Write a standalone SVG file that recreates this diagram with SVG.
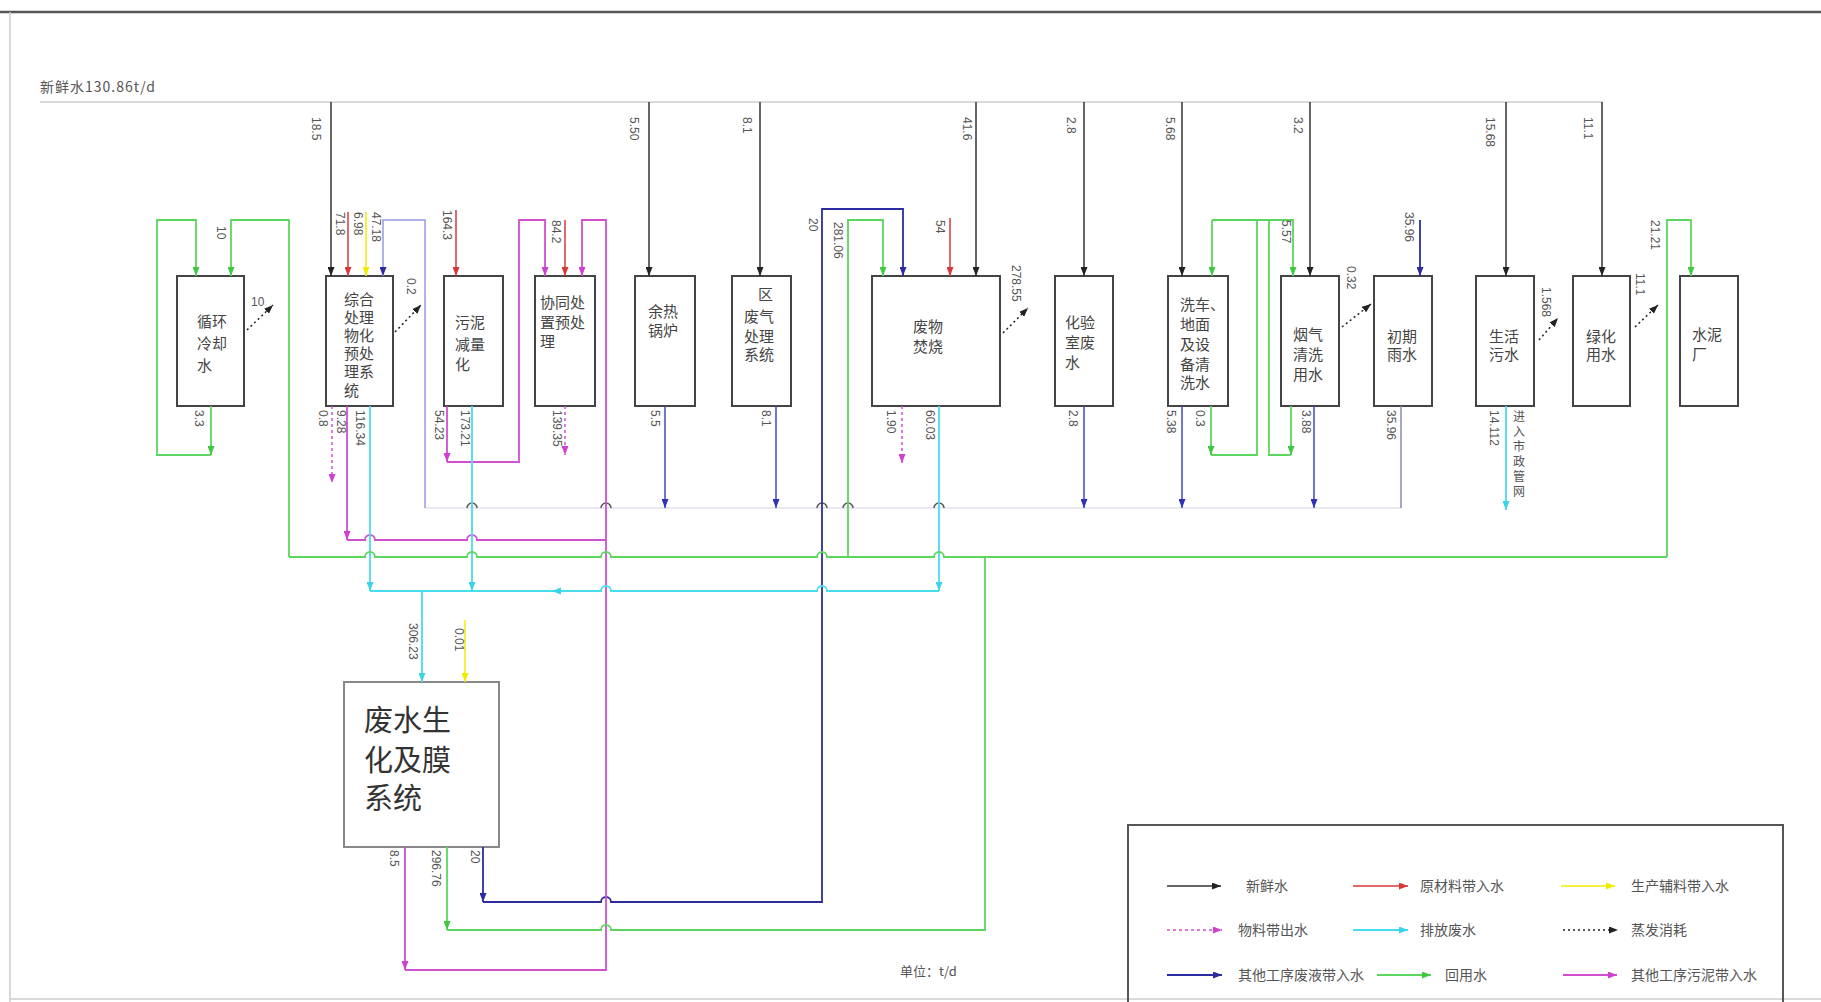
<svg xmlns="http://www.w3.org/2000/svg" width="1821" height="1002" viewBox="0 0 1821 1002">
<defs>
<style>
.bx{fill:#fff;stroke:#444;stroke-width:2}
.t{font-family:"Noto Sans CJK SC","Liberation Sans",sans-serif;font-size:15px;fill:#444}
.n{font-family:"Liberation Sans","Noto Sans CJK SC",sans-serif;font-size:12px;fill:#555}
.lg{font-family:"Noto Sans CJK SC","Liberation Sans",sans-serif;font-size:14px;fill:#555}
.k{stroke:#333;stroke-width:1.5;fill:none}
.r{stroke:#d83838;stroke-width:1.5;fill:none}
.y{stroke:#f0ec00;stroke-width:1.5;fill:none}
.nv{stroke:#2c2ca0;stroke-width:1.8;fill:none}
.bl{stroke:#4444c8;stroke-width:1.5;fill:none}
.lv{stroke:#9a9ae6;stroke-width:1.5;fill:none}
.c{stroke:#48dcef;stroke-width:1.8;fill:none}
.g{stroke:#5cd65c;stroke-width:1.8;fill:none}
.m{stroke:#d050d0;stroke-width:1.8;fill:none}
.md{stroke:#d050d0;stroke-width:1.5;fill:none;stroke-dasharray:3 3}
.ev{stroke:#222;stroke-width:1.5;fill:none;stroke-dasharray:2 3}
.hop{stroke:#555;stroke-width:1.5;fill:none}
</style>
<marker id="ak" viewBox="0 0 9 7" refX="9" refY="3.5" markerWidth="9" markerHeight="7" markerUnits="userSpaceOnUse" orient="auto"><path d="M0,0 L9,3.5 L0,7z" fill="#222"/></marker>
<marker id="ar" viewBox="0 0 9 7" refX="9" refY="3.5" markerWidth="9" markerHeight="7" markerUnits="userSpaceOnUse" orient="auto"><path d="M0,0 L9,3.5 L0,7z" fill="#d83838"/></marker>
<marker id="ay" viewBox="0 0 9 7" refX="9" refY="3.5" markerWidth="9" markerHeight="7" markerUnits="userSpaceOnUse" orient="auto"><path d="M0,0 L9,3.5 L0,7z" fill="#f0ec00"/></marker>
<marker id="anv" viewBox="0 0 9 7" refX="9" refY="3.5" markerWidth="9" markerHeight="7" markerUnits="userSpaceOnUse" orient="auto"><path d="M0,0 L9,3.5 L0,7z" fill="#2c2ca0"/></marker>
<marker id="abl" viewBox="0 0 9 7" refX="9" refY="3.5" markerWidth="9" markerHeight="7" markerUnits="userSpaceOnUse" orient="auto"><path d="M0,0 L9,3.5 L0,7z" fill="#3030b8"/></marker>
<marker id="ac" viewBox="0 0 9 7" refX="9" refY="3.5" markerWidth="9" markerHeight="7" markerUnits="userSpaceOnUse" orient="auto"><path d="M0,0 L9,3.5 L0,7z" fill="#38d4ea"/></marker>
<marker id="ag" viewBox="0 0 9 7" refX="9" refY="3.5" markerWidth="9" markerHeight="7" markerUnits="userSpaceOnUse" orient="auto"><path d="M0,0 L9,3.5 L0,7z" fill="#40c840"/></marker>
<marker id="am" viewBox="0 0 9 7" refX="9" refY="3.5" markerWidth="9" markerHeight="7" markerUnits="userSpaceOnUse" orient="auto"><path d="M0,0 L9,3.5 L0,7z" fill="#d040d0"/></marker>
</defs>
<rect x="0" y="0" width="1821" height="1002" fill="#fff"/>
<g id="frame">
<line x1="0" y1="12" x2="1821" y2="12" stroke="#555" stroke-width="2.5"/>
<line x1="10" y1="12" x2="10" y2="1002" stroke="#ccc" stroke-width="1.5"/>
<line x1="10" y1="999" x2="1821" y2="999" stroke="#ccc" stroke-width="1.5"/>
<text x="40" y="92" class="t" style="font-size:14px;letter-spacing:1px;fill:#555">新鲜水130.86t/d</text>
<line x1="40" y1="102" x2="1603" y2="102" stroke="#ccc" stroke-width="1.5"/>
</g>

<g id="n-cooling"><rect class="bx" x="177" y="276" width="67" height="130"/>
<text class="t" x="197" y="327">循环</text><text class="t" x="197" y="349">冷却</text><text class="t" x="197" y="371">水</text></g>
<g id="n-pretreat"><rect class="bx" x="326" y="276" width="67" height="130"/>
<text class="t" x="344" y="305">综合</text><text class="t" x="344" y="323">处理</text><text class="t" x="344" y="341">物化</text><text class="t" x="344" y="359">预处</text><text class="t" x="344" y="377">理系</text><text class="t" x="344" y="396">统</text></g>
<g id="n-sludge"><rect class="bx" x="444" y="276" width="59" height="130"/>
<text class="t" x="455" y="328">污泥</text><text class="t" x="455" y="350">减量</text><text class="t" x="455" y="370">化</text></g>
<g id="n-coproc"><rect class="bx" x="535" y="276" width="60" height="130"/>
<text class="t" x="540" y="308">协同处</text><text class="t" x="540" y="328">置预处</text><text class="t" x="540" y="347">理</text></g>
<g id="n-boiler"><rect class="bx" x="635" y="276" width="60" height="130"/>
<text class="t" x="648" y="317">余热</text><text class="t" x="648" y="336">锅炉</text></g>
<g id="n-gas"><rect class="bx" x="732" y="276" width="59" height="130"/>
<text class="t" x="758" y="300">区</text><text class="t" x="744" y="322">废气</text><text class="t" x="744" y="342">处理</text><text class="t" x="744" y="360">系统</text></g>
<g id="n-incin"><rect class="bx" x="872" y="276" width="128" height="130"/>
<text class="t" x="913" y="332">废物</text><text class="t" x="913" y="352">焚烧</text></g>
<g id="n-lab"><rect class="bx" x="1055" y="276" width="58" height="130"/>
<text class="t" x="1065" y="328">化验</text><text class="t" x="1065" y="348">室废</text><text class="t" x="1065" y="368">水</text></g>
<g id="n-wash"><rect class="bx" x="1168" y="276" width="60" height="130"/>
<text class="t" x="1180" y="310">洗车、</text><text class="t" x="1180" y="330">地面</text><text class="t" x="1180" y="350">及设</text><text class="t" x="1180" y="370">备清</text><text class="t" x="1180" y="388">洗水</text></g>
<g id="n-flue"><rect class="bx" x="1281" y="276" width="58" height="130"/>
<text class="t" x="1293" y="340">烟气</text><text class="t" x="1293" y="360">清洗</text><text class="t" x="1293" y="380">用水</text></g>
<g id="n-rain"><rect class="bx" x="1374" y="276" width="58" height="130"/>
<text class="t" x="1387" y="342">初期</text><text class="t" x="1387" y="360">雨水</text></g>
<g id="n-domestic"><rect class="bx" x="1476" y="276" width="58" height="130"/>
<text class="t" x="1489" y="342">生活</text><text class="t" x="1489" y="360">污水</text></g>
<g id="n-green"><rect class="bx" x="1573" y="276" width="57" height="130"/>
<text class="t" x="1586" y="342">绿化</text><text class="t" x="1586" y="360">用水</text></g>
<g id="n-cement"><rect class="bx" x="1680" y="276" width="58" height="130"/>
<text class="t" x="1692" y="340">水泥</text><text class="t" x="1692" y="360">厂</text></g>
<g id="n-wwtp"><rect x="344" y="682" width="155" height="165" fill="#fff" stroke="#888" stroke-width="2"/>
<text class="t" style="font-size:29px;fill:#333" x="364" y="731">废水生</text><text class="t" style="font-size:29px;fill:#333" x="364" y="771">化及膜</text><text class="t" style="font-size:29px;fill:#333" x="364" y="809">系统</text></g>

<g id="connectors">
<path class="k" marker-end="url(#ak)" d="M331 102V276"/>
<path class="k" marker-end="url(#ak)" d="M649 102V276"/>
<path class="k" marker-end="url(#ak)" d="M760 102V276"/>
<path class="k" marker-end="url(#ak)" d="M976 102V276"/>
<path class="k" marker-end="url(#ak)" d="M1084 102V276"/>
<path class="k" marker-end="url(#ak)" d="M1182 102V276"/>
<path class="k" marker-end="url(#ak)" d="M1310 102V276"/>
<path class="k" marker-end="url(#ak)" d="M1506 102V276"/>
<path class="k" marker-end="url(#ak)" d="M1602 102V276"/>
<path class="r" marker-end="url(#ar)" d="M348 212V276"/>
<path class="r" marker-end="url(#ar)" d="M456 210V276"/>
<path class="r" marker-end="url(#ar)" d="M565 220V276"/>
<path class="r" marker-end="url(#ar)" d="M950 218V276"/>
<path class="y" marker-end="url(#ay)" d="M366 212V276"/>
<path class="y" marker-end="url(#ay)" d="M465 620V682"/>
<path d="M425 508H1401" stroke="#e2e2ef" stroke-width="1.5" fill="none"/>
<path class="hop" d="M467 508A5 5 0 0 1 477 508M601 508A5 5 0 0 1 611 508M817 508A5 5 0 0 1 827 508M843 508A5 5 0 0 1 853 508M934 508A5 5 0 0 1 944 508"/>
<path class="lv" marker-end="url(#anv)" d="M425 508V220H383V276"/>
<path class="bl" marker-end="url(#abl)" d="M665 406V508"/>
<path class="bl" marker-end="url(#abl)" d="M776 406V508"/>
<path class="bl" marker-end="url(#abl)" d="M1084 406V508"/>
<path class="bl" marker-end="url(#abl)" d="M1182 406V508"/>
<path class="bl" marker-end="url(#abl)" d="M1314 406V508"/>
<path d="M1401 406V508" stroke="#8a8ab8" stroke-width="1.5" fill="none"/>
<path class="nv" marker-end="url(#anv)" d="M1420 220V276"/>
<path class="nv" marker-end="url(#anv)" d="M483 847V902"/>
<path class="nv" marker-end="url(#anv)" d="M483 902H601A5 5 0 0 1 611 902H822V209H903V276"/>
<path class="m" marker-end="url(#am)" d="M447 406V462"/>
<path class="m" marker-end="url(#am)" d="M447 462H519V220H545V276"/>
<path class="m" marker-end="url(#am)" d="M405 847V970"/>
<path class="m" marker-end="url(#am)" d="M405 970H606V220H582V276"/>
<path class="m" marker-end="url(#am)" d="M347 406V540"/>
<path class="m" d="M606 540H477A5 5 0 0 0 467 540H375A5 5 0 0 0 365 540H347"/>
<path class="md" marker-end="url(#am)" d="M332 406V483"/>
<path class="md" marker-end="url(#am)" d="M565 406V455"/>
<path class="md" marker-end="url(#am)" d="M902 406V463"/>
<path class="c" marker-end="url(#ac)" d="M370 406V591"/>
<path class="c" marker-end="url(#ac)" d="M472 406V591"/>
<path class="c" marker-end="url(#ac)" d="M939 406V591"/>
<path class="c" d="M939 591H827A5 5 0 0 0 817 591H611A5 5 0 0 0 601 591H370"/>
<polygon points="552,591 561,587.5 561,594.5" fill="#38d4ea"/>
<path class="c" marker-end="url(#ac)" d="M422 591V682"/>
<path class="c" marker-end="url(#ac)" d="M1506 406V510"/>
<path class="g" marker-end="url(#ag)" d="M211 406V455"/>
<path class="g" marker-end="url(#ag)" d="M211 455H157V220H196V276"/>
<path class="g" marker-end="url(#ag)" d="M289 557V220H231V276"/>
<path class="g" d="M289 557H365A5 5 0 0 1 375 557H467A5 5 0 0 1 477 557H601A5 5 0 0 1 611 557H817A5 5 0 0 1 827 557H934A5 5 0 0 1 944 557H1667"/>
<path class="g" marker-end="url(#ag)" d="M848 557V220H883V276"/>
<path class="g" marker-end="url(#ag)" d="M1667 557V220H1691V276"/>
<path class="g" marker-end="url(#ag)" d="M447 847V930"/>
<path class="g" d="M447 930H601A5 5 0 0 1 611 930H985V557"/>
<path class="g" marker-end="url(#ag)" d="M1211 406V455"/>
<path class="g" d="M1211 455H1257V220"/>
<path class="g" marker-end="url(#ag)" d="M1212 220V276"/>
<path class="g" marker-end="url(#ag)" d="M1212 220H1293V276"/>
<path class="g" marker-end="url(#ag)" d="M1291 406V455"/>
<path class="g" d="M1291 455H1269V220"/>
<path class="ev" marker-end="url(#ak)" d="M247 330L273 305"/>
<path class="ev" marker-end="url(#ak)" d="M395 332L421 305"/>
<path class="ev" marker-end="url(#ak)" d="M1003 333L1028 308"/>
<path class="ev" marker-end="url(#ak)" d="M1342 327L1371 304"/>
<path class="ev" marker-end="url(#ak)" d="M1539 340L1558 318"/>
<path class="ev" marker-end="url(#ak)" d="M1635 327L1658 305"/>
</g>

<g id="labels">
<text class="n" transform="translate(312,117) rotate(90)">18.5</text>
<text class="n" transform="translate(630,117) rotate(90)">5.50</text>
<text class="n" transform="translate(743,117) rotate(90)">8.1</text>
<text class="n" transform="translate(963,117) rotate(90)">41.6</text>
<text class="n" transform="translate(1067,117) rotate(90)">2.8</text>
<text class="n" transform="translate(1166,117) rotate(90)">5.68</text>
<text class="n" transform="translate(1294,117) rotate(90)">3.2</text>
<text class="n" transform="translate(1486,117) rotate(90)">15.68</text>
<text class="n" transform="translate(1584,117) rotate(90)">11.1</text>

<text class="n" transform="translate(217,226) rotate(90)">10</text>
<text class="n" x="251" y="306">10</text>
<text class="n" transform="translate(336,212) rotate(90)">71.8</text>
<text class="n" transform="translate(354,212) rotate(90)">6.98</text>
<text class="n" transform="translate(372,212) rotate(90)">47.18</text>
<text class="n" transform="translate(407,278) rotate(90)">0.2</text>
<text class="n" transform="translate(443,210) rotate(90)">164.3</text>
<text class="n" transform="translate(552,220) rotate(90)">84.2</text>
<text class="n" transform="translate(809,218) rotate(90)">20</text>
<text class="n" transform="translate(834,222) rotate(90)">281.06</text>
<text class="n" transform="translate(936,220) rotate(90)">54</text>
<text class="n" transform="translate(1012,265) rotate(90)">278.55</text>
<text class="n" transform="translate(1282,220) rotate(90)">5.57</text>
<text class="n" transform="translate(1347,266) rotate(90)">0.32</text>
<text class="n" transform="translate(1405,212) rotate(90)">35.96</text>
<text class="n" transform="translate(1542,287) rotate(90)">1.568</text>
<text class="n" transform="translate(1636,273) rotate(90)">11.1</text>
<text class="n" transform="translate(1651,220) rotate(90)">21.21</text>

<text class="n" transform="translate(195,410) rotate(90)">3.3</text>
<text class="n" transform="translate(319,410) rotate(90)">0.8</text>
<text class="n" transform="translate(337,410) rotate(90)">9.28</text>
<text class="n" transform="translate(356,410) rotate(90)">116.34</text>
<text class="n" transform="translate(435,410) rotate(90)">54.23</text>
<text class="n" transform="translate(461,410) rotate(90)">173.21</text>
<text class="n" transform="translate(553,410) rotate(90)">139.35</text>
<text class="n" transform="translate(651,410) rotate(90)">5.5</text>
<text class="n" transform="translate(762,410) rotate(90)">8.1</text>
<text class="n" transform="translate(887,410) rotate(90)">1.90</text>
<text class="n" transform="translate(926,410) rotate(90)">60.03</text>
<text class="n" transform="translate(1069,410) rotate(90)">2.8</text>
<text class="n" transform="translate(1167,410) rotate(90)">5.38</text>
<text class="n" transform="translate(1196,410) rotate(90)">0.3</text>
<text class="n" transform="translate(1302,410) rotate(90)">3.88</text>
<text class="n" transform="translate(1387,410) rotate(90)">35.96</text>
<text class="n" transform="translate(1490,410) rotate(90)">14.112</text>
<text class="lg" style="font-size:12px" text-anchor="middle"><tspan x="1519" y="421">进</tspan><tspan x="1519" y="436">入</tspan><tspan x="1519" y="451">市</tspan><tspan x="1519" y="466">政</tspan><tspan x="1519" y="481">管</tspan><tspan x="1519" y="496">网</tspan></text>

<text class="n" transform="translate(409,623) rotate(90)">306.23</text>
<text class="n" transform="translate(455,628) rotate(90)">0.01</text>
<text class="n" transform="translate(390,850) rotate(90)">8.5</text>
<text class="n" transform="translate(432,850) rotate(90)">296.76</text>
<text class="n" transform="translate(471,850) rotate(90)">20</text>
<text class="lg" style="font-size:13px" x="900" y="976">单位：t/d</text>
</g>

<g id="legend">
<rect x="1128" y="825" width="655" height="200" fill="none" stroke="#555" stroke-width="2"/>
<path class="k" marker-end="url(#ak)" d="M1167 886H1221"/>
<text class="lg" x="1246" y="891">新鲜水</text>
<path class="r" marker-end="url(#ar)" d="M1353 886H1408"/>
<text class="lg" x="1420" y="891">原材料带入水</text>
<path class="y" marker-end="url(#ay)" d="M1561 886H1615"/>
<text class="lg" x="1631" y="891">生产辅料带入水</text>
<path class="md" marker-end="url(#am)" d="M1167 930H1222"/>
<text class="lg" x="1238" y="935">物料带出水</text>
<path class="c" marker-end="url(#ac)" d="M1353 930H1408"/>
<text class="lg" x="1420" y="935">排放废水</text>
<path class="ev" marker-end="url(#ak)" d="M1563 930H1618"/>
<text class="lg" x="1631" y="935">蒸发消耗</text>
<path class="nv" marker-end="url(#anv)" d="M1167 975H1222"/>
<text class="lg" x="1238" y="980">其他工序废液带入水</text>
<path class="g" marker-end="url(#ag)" d="M1377 975H1431"/>
<text class="lg" x="1445" y="980">回用水</text>
<path class="m" marker-end="url(#am)" d="M1563 975H1617"/>
<text class="lg" x="1631" y="980">其他工序污泥带入水</text>
</g>
</svg>
